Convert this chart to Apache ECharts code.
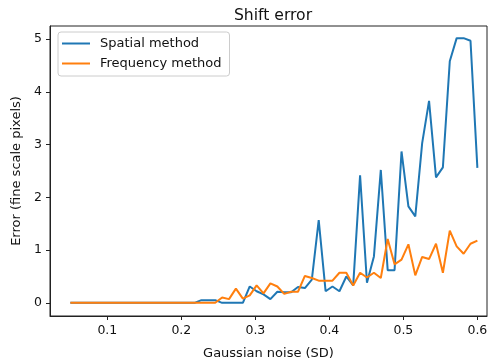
<!DOCTYPE html>
<html>
<head>
<meta charset="utf-8">
<script src="https://cdn.jsdelivr.net/npm/echarts@6/dist/echarts.min.js"></script>
<style>html,body{margin:0;padding:0;background:#fff}#c{width:491px;height:360px}</style>
</head>
<body>
<div id="c"></div>
<script>
// Gaussian noise SD (x)
var noiseSD = [0.0500,0.0593,0.0686,0.0780,0.0873,0.0966,0.1059,0.1153,0.1246,0.1339,
0.1432,0.1525,0.1619,0.1712,0.1805,0.1898,0.1992,0.2085,0.2178,0.2271,
0.2364,0.2458,0.2551,0.2644,0.2737,0.2831,0.2924,0.3017,0.3110,0.3203,
0.3297,0.3390,0.3483,0.3576,0.3669,0.3763,0.3856,0.3949,0.4042,0.4136,
0.4229,0.4322,0.4415,0.4508,0.4602,0.4695,0.4788,0.4881,0.4975,0.5068,
0.5161,0.5254,0.5347,0.5441,0.5534,0.5627,0.5720,0.5814,0.5907,0.6000];
var spatialErr = [0,0,0,0,0,0,0,0,0,0,
0,0,0,0,0,0,0,0,0,0.05,
0.05,0.05,0,0,0,0,0.31,0.22,0.16,0.07,
0.21,0.2,0.2,0.3,0.28,0.44,1.57,0.22,0.31,0.22,
0.5,0.33,2.42,0.38,0.88,2.52,0.62,0.62,2.87,1.83,
1.64,3.03,3.83,2.38,2.57,4.58,5.02,5.02,4.97,2.56];
var freqErr = [0,0,0,0,0,0,0,0,0,0,
0,0,0,0,0,0,0,0,0,0,
0,0,0.1,0.07,0.27,0.08,0.14,0.33,0.18,0.37,
0.31,0.17,0.21,0.21,0.51,0.47,0.42,0.42,0.42,0.57,
0.57,0.33,0.57,0.48,0.57,0.47,1.21,0.73,0.82,1.11,
0.52,0.87,0.83,1.12,0.57,1.37,1.07,0.93,1.12,1.18];
var xTicks = [0.1,0.2,0.3,0.4,0.5,0.6];
var yTicks = [0,1,2,3,4,5];
var seriesNames = ['Spatial method','Frequency method'];

function pairs(ys){ return noiseSD.map(function(x,i){ return [x, ys[i]]; }); }
var FONT = 'DejaVu Sans';
var chart = echarts.init(document.getElementById('c'), null, {renderer:'canvas'});
chart.setOption({
  animation:false,
  backgroundColor:'#fff',
  textStyle:{fontFamily:FONT},
  title:{text:'Shift error', left:268, top:3, textAlign:'center',
    textStyle:{fontFamily:FONT, fontSize:15.6, fontWeight:'normal', color:'#111'}},
  legend:{
    data:seriesNames, orient:'vertical', left:58, top:32,
    backgroundColor:'rgba(255,255,255,0.8)', borderColor:'#ccc', borderWidth:1, borderRadius:3,
    padding:[4,8,5,4], itemGap:5, itemWidth:28, itemHeight:2, icon:'rect',
    textStyle:{fontFamily:FONT, fontSize:13, color:'#111', lineHeight:15, padding:[0,0,0,5]}
  },
  grid:{left:50, right:4, top:26, bottom:44, show:true, borderColor:'#222', borderWidth:1,
    backgroundColor:'transparent', containLabel:false, outerBoundsMode:'none'},
  xAxis:{type:'value', min:0.0225, max:0.613,
    name:'Gaussian noise (SD)', nameLocation:'middle', nameGap:31,
    nameTextStyle:{fontFamily:FONT, fontSize:13, color:'#111'},
    axisLine:{show:true, onZero:false, lineStyle:{color:'#222'}},
    axisTick:{show:true, length:4, customValues:xTicks, lineStyle:{color:'#222'}},
    axisLabel:{customValues:xTicks, margin:8, fontFamily:FONT, fontSize:12.5, color:'#111',
      formatter:function(v){return v.toFixed(1);}},
    splitLine:{show:false}},
  yAxis:{type:'value', min:-0.25, max:5.25,
    name:'Error (fine scale pixels)', nameLocation:'middle', nameGap:27,
    nameTextStyle:{fontFamily:FONT, fontSize:13, color:'#111'},
    axisLine:{show:true, onZero:false, lineStyle:{color:'#222'}},
    axisTick:{show:true, length:4, customValues:yTicks, lineStyle:{color:'#222'}},
    axisLabel:{customValues:yTicks, margin:8, fontFamily:FONT, fontSize:12.5, color:'#111'},
    splitLine:{show:false}},
  series:[
    {name:seriesNames[0], type:'line', data:pairs(spatialErr), symbol:'none', color:'#1f77b4',
      lineStyle:{width:2, color:'#1f77b4'}},
    {name:seriesNames[1], type:'line', data:pairs(freqErr), symbol:'none', color:'#ff7f0e',
      lineStyle:{width:2, color:'#ff7f0e'}}
  ]
});
</script>
</body>
</html>
